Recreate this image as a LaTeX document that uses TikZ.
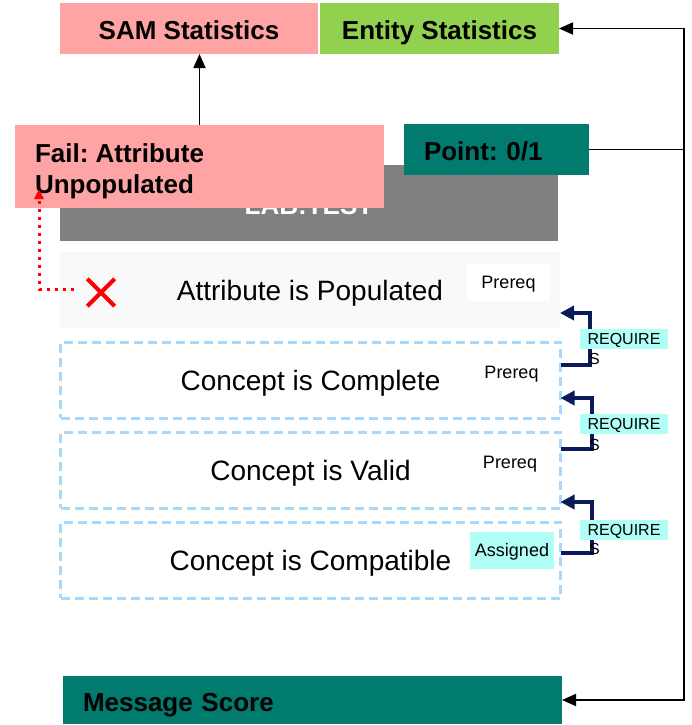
\documentclass[tikz,border=0pt]{standalone}
\usepackage{fontspec}
\setmainfont{Liberation Sans}
\usetikzlibrary{arrows.meta}
\definecolor{pinkbox}{HTML}{FFA4A4}
\definecolor{greenbox}{HTML}{92D050}
\definecolor{tealbox}{HTML}{007B6E}
\definecolor{graybox}{HTML}{808080}
\definecolor{rulebg}{HTML}{F9F9F9}
\definecolor{dashblue}{HTML}{A8D8FC}
\definecolor{cyanlbl}{HTML}{AFFFF7}
\definecolor{navy}{HTML}{0B1A5A}
\definecolor{xred}{HTML}{FF0000}
\tikzset{
  box/.style={inner sep=0pt, outer sep=0pt, font=\bfseries\fontsize{26}{31}\selectfont,
              text height=22.6pt, text depth=0pt},
  leftbox/.style={box, align=left, inner xsep=20pt},
  plainbox/.style={inner sep=0pt, outer sep=0pt},
  boxtext/.style={inner sep=0pt, outer sep=0pt, align=left,
                  font=\bfseries\fontsize{26}{31.5}\selectfont},
  rulebox/.style={inner sep=0pt, outer sep=0pt, minimum width=500pt, minimum height=76pt,
                  font=\fontsize{28}{33}\selectfont, text height=20pt, text depth=0pt},
  dashedrule/.style={rulebox, draw=dashblue, line width=3pt, dash pattern=on 9pt off 5pt},
  tag/.style={inner sep=0pt, outer sep=0pt, font=\fontsize{18}{21}\selectfont,
              text height=12.9pt, text depth=0pt},
  reqlbl/.style={inner sep=0pt, outer sep=0pt, fill=cyanlbl, minimum width=88pt,
                 minimum height=20pt, font=\fontsize{16}{18}\selectfont,
                 text height=11.5pt, text depth=0pt},
  reqs/.style={inner sep=0pt, outer sep=0pt, font=\fontsize{16}{18}\selectfont},
  conn/.style={line width=1.8pt, black},
  connarrow/.style={conn, -{Triangle[length=14pt, width=12pt]}},
  reqarrow/.style={line width=4pt, navy, miter limit=10, -{Triangle[length=14pt, width=14pt]}},
  failarrow/.style={line width=3pt, xred, dash pattern=on 3.5pt off 4.5pt,
                    -{Triangle[length=10pt, width=9pt]}}
}
\begin{document}
\frenchspacing
\begin{tikzpicture}[x=1pt, y=-1pt]
\useasboundingbox (0,0) rectangle (692,725);

% statistics targets
\node[box, fill=pinkbox, minimum width=258pt, minimum height=51pt] (sam) at (189,28.5) {SAM Statistics};
\node[box, fill=greenbox, minimum width=239pt, minimum height=51pt] (entity) at (439.5,28.5) {Entity Statistics};

% test header with the failure note laid over it
\node[box, fill=graybox, text=white, minimum width=498pt, minimum height=76pt] (lab) at (309,203) {LAB:TEST};
\node[plainbox, fill=pinkbox, minimum width=369pt, minimum height=83pt] (fail) at (199.5,166.5) {};
\node[boxtext, anchor=north west] (failtext) at (35,143.5) {Fail: Attribute\\Unpopulated};
\node[leftbox, fill=tealbox, text width=145pt, minimum height=51pt] (point) at (496.5,149.5) {Point: 0/1};

% rule rows
\node[rulebox, fill=rulebg] (attr) at (310,290) {Attribute is Populated};
\node[dashedrule] (complete) at (310.5,380) {Concept is Complete};
\node[dashedrule] (valid) at (310.5,470) {Concept is Valid};
\node[dashedrule] (compat) at (310.5,560) {Concept is Compatible};

% rule tags
\node[tag, fill=white, minimum width=83pt, minimum height=37pt] (tag1) at (508.5,282) {Prereq};
\node[tag] (tag2) at (511.5,372) {Prereq};
\node[tag] (tag3) at (510,462) {Prereq};
\node[tag, fill=cyanlbl, minimum width=84pt, minimum height=37pt] (tag4) at (512,550.5) {Assigned};

% message score
\node[leftbox, fill=tealbox, text width=459pt, minimum height=48pt] (msg) at (312.5,700) {Message Score};

% failed check mark
\node[minimum size=27pt, inner sep=0pt] (xmark) at (101,292.5) {};
\draw[xred, line width=4pt] (xmark.north west) -- (xmark.south east)
                            (xmark.south west) -- (xmark.north east);
\coordinate (dotstart) at (74,289);
\coordinate (dotend) at (39,189);
\draw[failarrow] (dotstart) -| (dotend);

% score routing
\draw[connarrow] (fail.north) -- (fail.north |- sam.south);
\draw[conn] (point.east) -- (684,149.5) coordinate (junction);
\draw[connarrow] (junction) |- (entity.east);
\draw[connarrow] (junction) |- (msg.east);

% dependency arrows between rules
\draw[reqarrow] (complete.east |- 0,365) -- (590,365) -- (590,313) -- (attr.east |- 0,313);
\draw[reqarrow] (valid.east |- 0,449) -- (592,449) -- (592,398) -- (complete.east |- 0,398);
\draw[reqarrow] (compat.east |- 0,553) -- (592,553) -- (592,502) -- (valid.east |- 0,502);

\node[reqlbl] (req1) at (624,339) {REQUIRE};
\node[reqs, anchor=west] (req1s) at (589,358.5) {S};
\node[reqlbl] (req2) at (624,424) {REQUIRE};
\node[reqs, anchor=west] (req2s) at (589,445) {S};
\node[reqlbl] (req3) at (624,529.5) {REQUIRE};
\node[reqs, anchor=west] (req3s) at (589,549) {S};
\end{tikzpicture}
\end{document}
